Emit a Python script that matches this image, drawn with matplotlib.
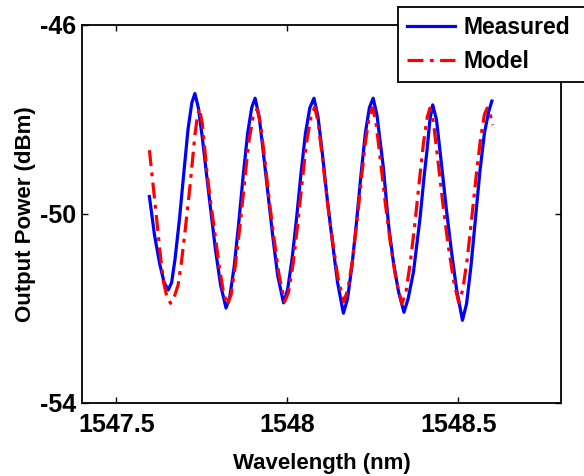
import matplotlib
matplotlib.use("Agg")
import matplotlib.pyplot as plt

# measured transmission
meas_wl = [
    1547.597, 1547.612, 1547.627, 1547.640, 1547.652, 1547.662, 1547.672, 1547.685,
    1547.698, 1547.710, 1547.721, 1547.730, 1547.740, 1547.752, 1547.763, 1547.776,
    1547.790, 1547.805, 1547.821, 1547.832, 1547.845, 1547.858, 1547.871, 1547.884,
    1547.896, 1547.906, 1547.918, 1547.930, 1547.944, 1547.958, 1547.972, 1547.989,
    1548.001, 1548.014, 1548.027, 1548.040, 1548.053, 1548.066, 1548.078, 1548.090,
    1548.103, 1548.117, 1548.132, 1548.147, 1548.164, 1548.176, 1548.189, 1548.202,
    1548.215, 1548.228, 1548.240, 1548.251, 1548.262, 1548.281, 1548.296, 1548.310,
    1548.325, 1548.341, 1548.353, 1548.369, 1548.388, 1548.400, 1548.408, 1548.417,
    1548.425, 1548.436, 1548.450, 1548.465, 1548.480, 1548.495, 1548.512, 1548.524,
    1548.537, 1548.550, 1548.563, 1548.576, 1548.588, 1548.598,
]
meas_db = [
    -49.63, -50.45, -51.05, -51.45, -51.61, -51.45, -50.95, -50.10,
    -49.10, -48.20, -47.65, -47.45, -47.75, -48.40, -49.10, -49.90,
    -50.75, -51.50, -51.99, -51.75, -51.10, -50.20, -49.20, -48.30,
    -47.75, -47.55, -47.95, -48.70, -49.60, -50.50, -51.30, -51.88,
    -51.60, -50.95, -50.10, -49.15, -48.30, -47.75, -47.55, -47.95,
    -48.75, -49.70, -50.60, -51.45, -52.10, -51.80, -51.10, -50.20,
    -49.20, -48.30, -47.75, -47.55, -47.90, -49.03, -50.23, -51.01,
    -51.64, -52.08, -51.80, -51.22, -50.09, -49.20, -48.68, -48.00,
    -47.69, -48.00, -48.90, -49.90, -50.80, -51.60, -52.25, -51.90,
    -51.10, -50.10, -49.10, -48.30, -47.85, -47.61,
]

# model curve
model_wl = [
    1547.597, 1547.608, 1547.618, 1547.628, 1547.638, 1547.648, 1547.659, 1547.670,
    1547.681, 1547.691, 1547.703, 1547.716, 1547.730, 1547.737, 1547.743, 1547.752,
    1547.764, 1547.776, 1547.789, 1547.801, 1547.813, 1547.825, 1547.836, 1547.848,
    1547.861, 1547.874, 1547.887, 1547.900, 1547.912, 1547.922, 1547.935, 1547.948,
    1547.961, 1547.975, 1547.992, 1548.004, 1548.017, 1548.030, 1548.043, 1548.056,
    1548.069, 1548.080, 1548.090, 1548.104, 1548.118, 1548.133, 1548.148, 1548.165,
    1548.177, 1548.190, 1548.203, 1548.216, 1548.228, 1548.239, 1548.249, 1548.259,
    1548.272, 1548.287, 1548.302, 1548.318, 1548.335, 1548.347, 1548.360, 1548.373,
    1548.386, 1548.398, 1548.409, 1548.417, 1548.427, 1548.440, 1548.455, 1548.470,
    1548.486, 1548.501, 1548.513, 1548.526, 1548.539, 1548.552, 1548.565, 1548.576,
    1548.584, 1548.592, 1548.600,
]
model_db = [
    -48.65, -49.40, -50.09, -50.80, -51.43, -51.75, -51.89, -51.75,
    -51.50, -51.00, -50.25, -49.39, -48.33, -47.95, -47.76, -48.10,
    -49.03, -49.75, -50.44, -51.10, -51.64, -51.93, -51.70, -51.10,
    -50.30, -49.40, -48.50, -47.95, -47.78, -48.10, -48.90, -49.75,
    -50.50, -51.25, -51.86, -51.65, -51.05, -50.25, -49.35, -48.50,
    -47.95, -47.74, -48.05, -48.90, -49.80, -50.60, -51.35, -51.86,
    -51.60, -51.00, -50.20, -49.30, -48.50, -47.95, -47.75, -48.05,
    -48.85, -49.80, -50.65, -51.40, -51.90, -51.65, -51.00, -50.20,
    -49.30, -48.50, -47.95, -47.76, -48.05, -48.85, -49.80, -50.65,
    -51.40, -51.88, -51.60, -50.95, -50.10, -49.20, -48.40, -47.90,
    -47.76, -47.85, -48.12,
]

xticks = [1547.5, 1548, 1548.5]
xtick_labels = ["1547.5", "1548", "1548.5"]
yticks = [-54, -50, -46]

plt.rcParams["font.family"] = ["Liberation Sans", "DejaVu Sans"]
plt.rcParams["font.weight"] = "bold"
plt.rcParams["axes.unicode_minus"] = False

fig = plt.figure(figsize=(5.84, 4.76), dpi=100)
ax = fig.add_axes([0.1404, 0.1534, 0.8202, 0.7941])

ax.plot(meas_wl, meas_db, color="#0000ff", lw=2.3, ls="-", label="Measured")
ax.plot(model_wl, model_db, color="#ff0000", lw=2.3, ls=(0, (5, 2, 1.2, 2)), label="Model")

ax.set_xlim(1547.4, 1548.8)
ax.set_ylim(-54, -46)
ax.set_xticks(xticks)
ax.set_xticklabels(xtick_labels)
ax.set_yticks(yticks)
ax.tick_params(direction="in", top=True, right=True, length=4, width=1, labelsize=18)
ax.tick_params(axis="x", pad=7)
ax.tick_params(axis="y", pad=4)
for s in ax.spines.values():
    s.set_linewidth(1.3)

ax.set_xlabel("Wavelength (nm)", fontsize=16, fontweight="bold", labelpad=12)
ax.set_ylabel("Output Power (dBm)", fontsize=16, fontweight="bold", labelpad=3)

# legend box hangs off the right edge like the original
leg = ax.legend(loc="upper left", bbox_to_anchor=(0.6815, 0.855, 0.36, 0.13),
                bbox_transform=fig.transFigure, mode="expand",
                borderaxespad=0, fancybox=False, edgecolor="black", framealpha=1,
                prop={"size": 16.5, "weight": "bold"}, handlelength=2.1, handletextpad=0.35,
                labelspacing=0.45, borderpad=0.4)
leg.get_frame().set_linewidth(1.3)
leg.set_zorder(5)

fig.savefig("out.png", dpi=100)
